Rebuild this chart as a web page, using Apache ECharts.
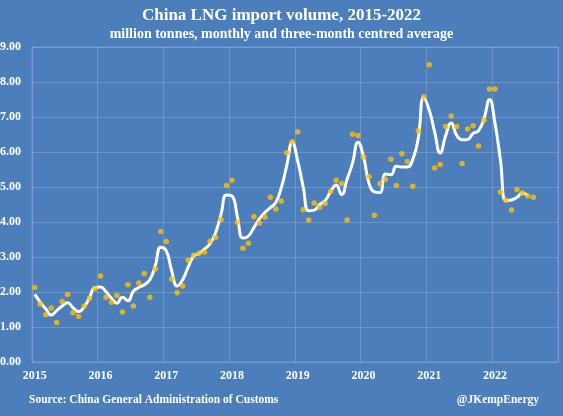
<!DOCTYPE html>
<html>
<head>
<meta charset="utf-8">
<script src="https://cdn.jsdelivr.net/npm/echarts@6/dist/echarts.min.js"></script>
<style>
  html, body { margin: 0; padding: 0; background: #4b7ebb; }
  #main { width: 563px; height: 416px; }
</style>
</head>
<body>
<div id="main"></div>
<script>
// years on the x axis, one label per January
const years = ["2015", "2016", "2017", "2018", "2019", "2020", "2021", "2022"];

// monthly LNG imports, million tonnes (Jan 2015 - Aug 2022)
const monthlyVolume = [
  2.13, 1.66, 1.35, 1.54, 1.13, 1.73, 1.93, 1.41, 1.30, 1.60, 1.82, 2.10,
  2.46, 1.85, 1.71, 1.90, 1.43, 2.21, 1.60, 2.26, 2.53, 1.85, 2.66, 3.73,
  3.44, 2.37, 1.98, 2.17, 2.91, 3.05, 3.11, 3.14, 3.45, 3.56, 4.07, 5.04,
  5.19, 3.99, 3.25, 3.39, 4.15, 3.97, 4.14, 4.71, 4.37, 4.60, 5.98, 6.29,
  6.58, 4.35, 4.06, 4.54, 4.42, 4.53, 4.88, 5.19, 5.10, 4.06, 6.51, 6.47,
  5.86, 5.29, 4.19, 5.10, 5.22, 5.79, 5.04, 5.95, 5.73, 5.02, 6.61, 7.58,
  8.49, 5.54, 5.64, 6.73, 7.03, 6.73, 5.67, 6.66, 6.75, 6.17, 6.91, 7.80,
  7.80, 4.86, 4.62, 4.34, 4.93, 4.83, 4.74, 4.71,
];

// three-month centred average as drawn (Jan 2015 - Jul 2022)
const centredAverage = [
  1.93, 1.71, 1.52, 1.34, 1.47, 1.60, 1.69, 1.55, 1.44, 1.57, 1.84, 2.13,
  2.14, 2.01, 1.82, 1.68, 1.85, 1.75, 2.02, 2.13, 2.21, 2.35, 2.75, 3.28,
  3.18, 2.60, 2.17, 2.35, 2.71, 3.02, 3.10, 3.23, 3.38, 3.69, 4.22, 4.77,
  4.74, 4.14, 3.54, 3.60, 3.84, 4.09, 4.27, 4.41, 4.56, 4.98, 5.62, 6.28,
  5.74, 5.00, 4.32, 4.34, 4.50, 4.61, 4.87, 5.06, 4.78, 5.22, 5.68, 6.28,
  5.87, 5.11, 4.86, 4.84, 5.37, 5.35, 5.59, 5.57, 5.57, 5.79, 6.40, 7.56,
  7.20, 6.56, 5.97, 6.47, 6.83, 6.48, 6.35, 6.36, 6.53, 6.61, 6.96, 7.50,
  6.82, 5.76, 4.61, 4.63, 4.70, 4.83, 4.76,
];

// one category per month, labelled with the year on January
const months = [];
years.forEach((y) => {
  for (let m = 1; m <= 12; m++) {
    months.push(y + "-" + String(m).padStart(2, "0"));
  }
});

const serif = "Liberation Serif";
const gridColor = "rgba(255, 255, 255, 0.18)";

const myChart = echarts.init(document.getElementById("main"));

const options = {
  backgroundColor: "#4b7ebb",
  textStyle: { fontFamily: serif },
  title: [
    {
      text: "China LNG import volume, 2015-2022",
      subtext: "million tonnes, monthly and three-month centred average",
      left: "center",
      top: 2,
      itemGap: 3,
      textStyle: { color: "#fff", fontFamily: serif, fontWeight: "bold", fontSize: 17 },
      subtextStyle: { color: "#fff", fontFamily: serif, fontWeight: "bold", fontSize: 14 },
    },
    {
      text: "Source: China General Administration of Customs",
      left: 24,
      top: 389,
      textStyle: { color: "#fff", fontFamily: serif, fontWeight: "bold", fontSize: 11.5 },
    },
    {
      text: "@JKempEnergy",
      right: 19,
      top: 389,
      textStyle: { color: "#fff", fontFamily: serif, fontWeight: "bold", fontSize: 11.5 },
    },
  ],
  grid: {
    left: 32,
    right: 5,
    top: 47,
    bottom: 54,
    show: true,
    borderColor: gridColor,
    borderWidth: 1,
    outerBoundsMode: "none",
  },
  xAxis: {
    type: "category",
    data: months,
    boundaryGap: true,
    axisLine: { show: false },
    axisTick: { show: false },
    axisLabel: {
      interval: (i) => i % 12 === 0,
      formatter: (v) => v.slice(0, 4),
      color: "#fff",
      fontFamily: serif,
      fontWeight: "bold",
      fontSize: 12,
      margin: 8,
    },
    splitLine: {
      show: true,
      interval: (i) => i % 12 === 0,
      lineStyle: { color: gridColor, width: 1 },
    },
  },
  yAxis: {
    type: "value",
    min: 0,
    max: 9,
    interval: 1,
    axisLine: { show: false },
    axisTick: { show: false },
    axisLabel: {
      formatter: (v) => v.toFixed(2),
      color: "#fff",
      fontFamily: serif,
      fontWeight: "bold",
      fontSize: 12,
      margin: 11,
    },
    splitLine: { lineStyle: { color: gridColor, width: 1 } },
  },
  series: [
    {
      name: "Three-month centred average",
      type: "line",
      data: centredAverage,
      smooth: 0.5,
      showSymbol: false,
      lineStyle: { color: "#fff", width: 3 },
      z: 2,
    },
    {
      name: "Monthly",
      type: "scatter",
      data: monthlyVolume,
      symbolSize: 5.5,
      itemStyle: { color: "#ffc000" },
      z: 3,
    },
  ],
};

myChart.setOption(options);
</script>
</body>
</html>
